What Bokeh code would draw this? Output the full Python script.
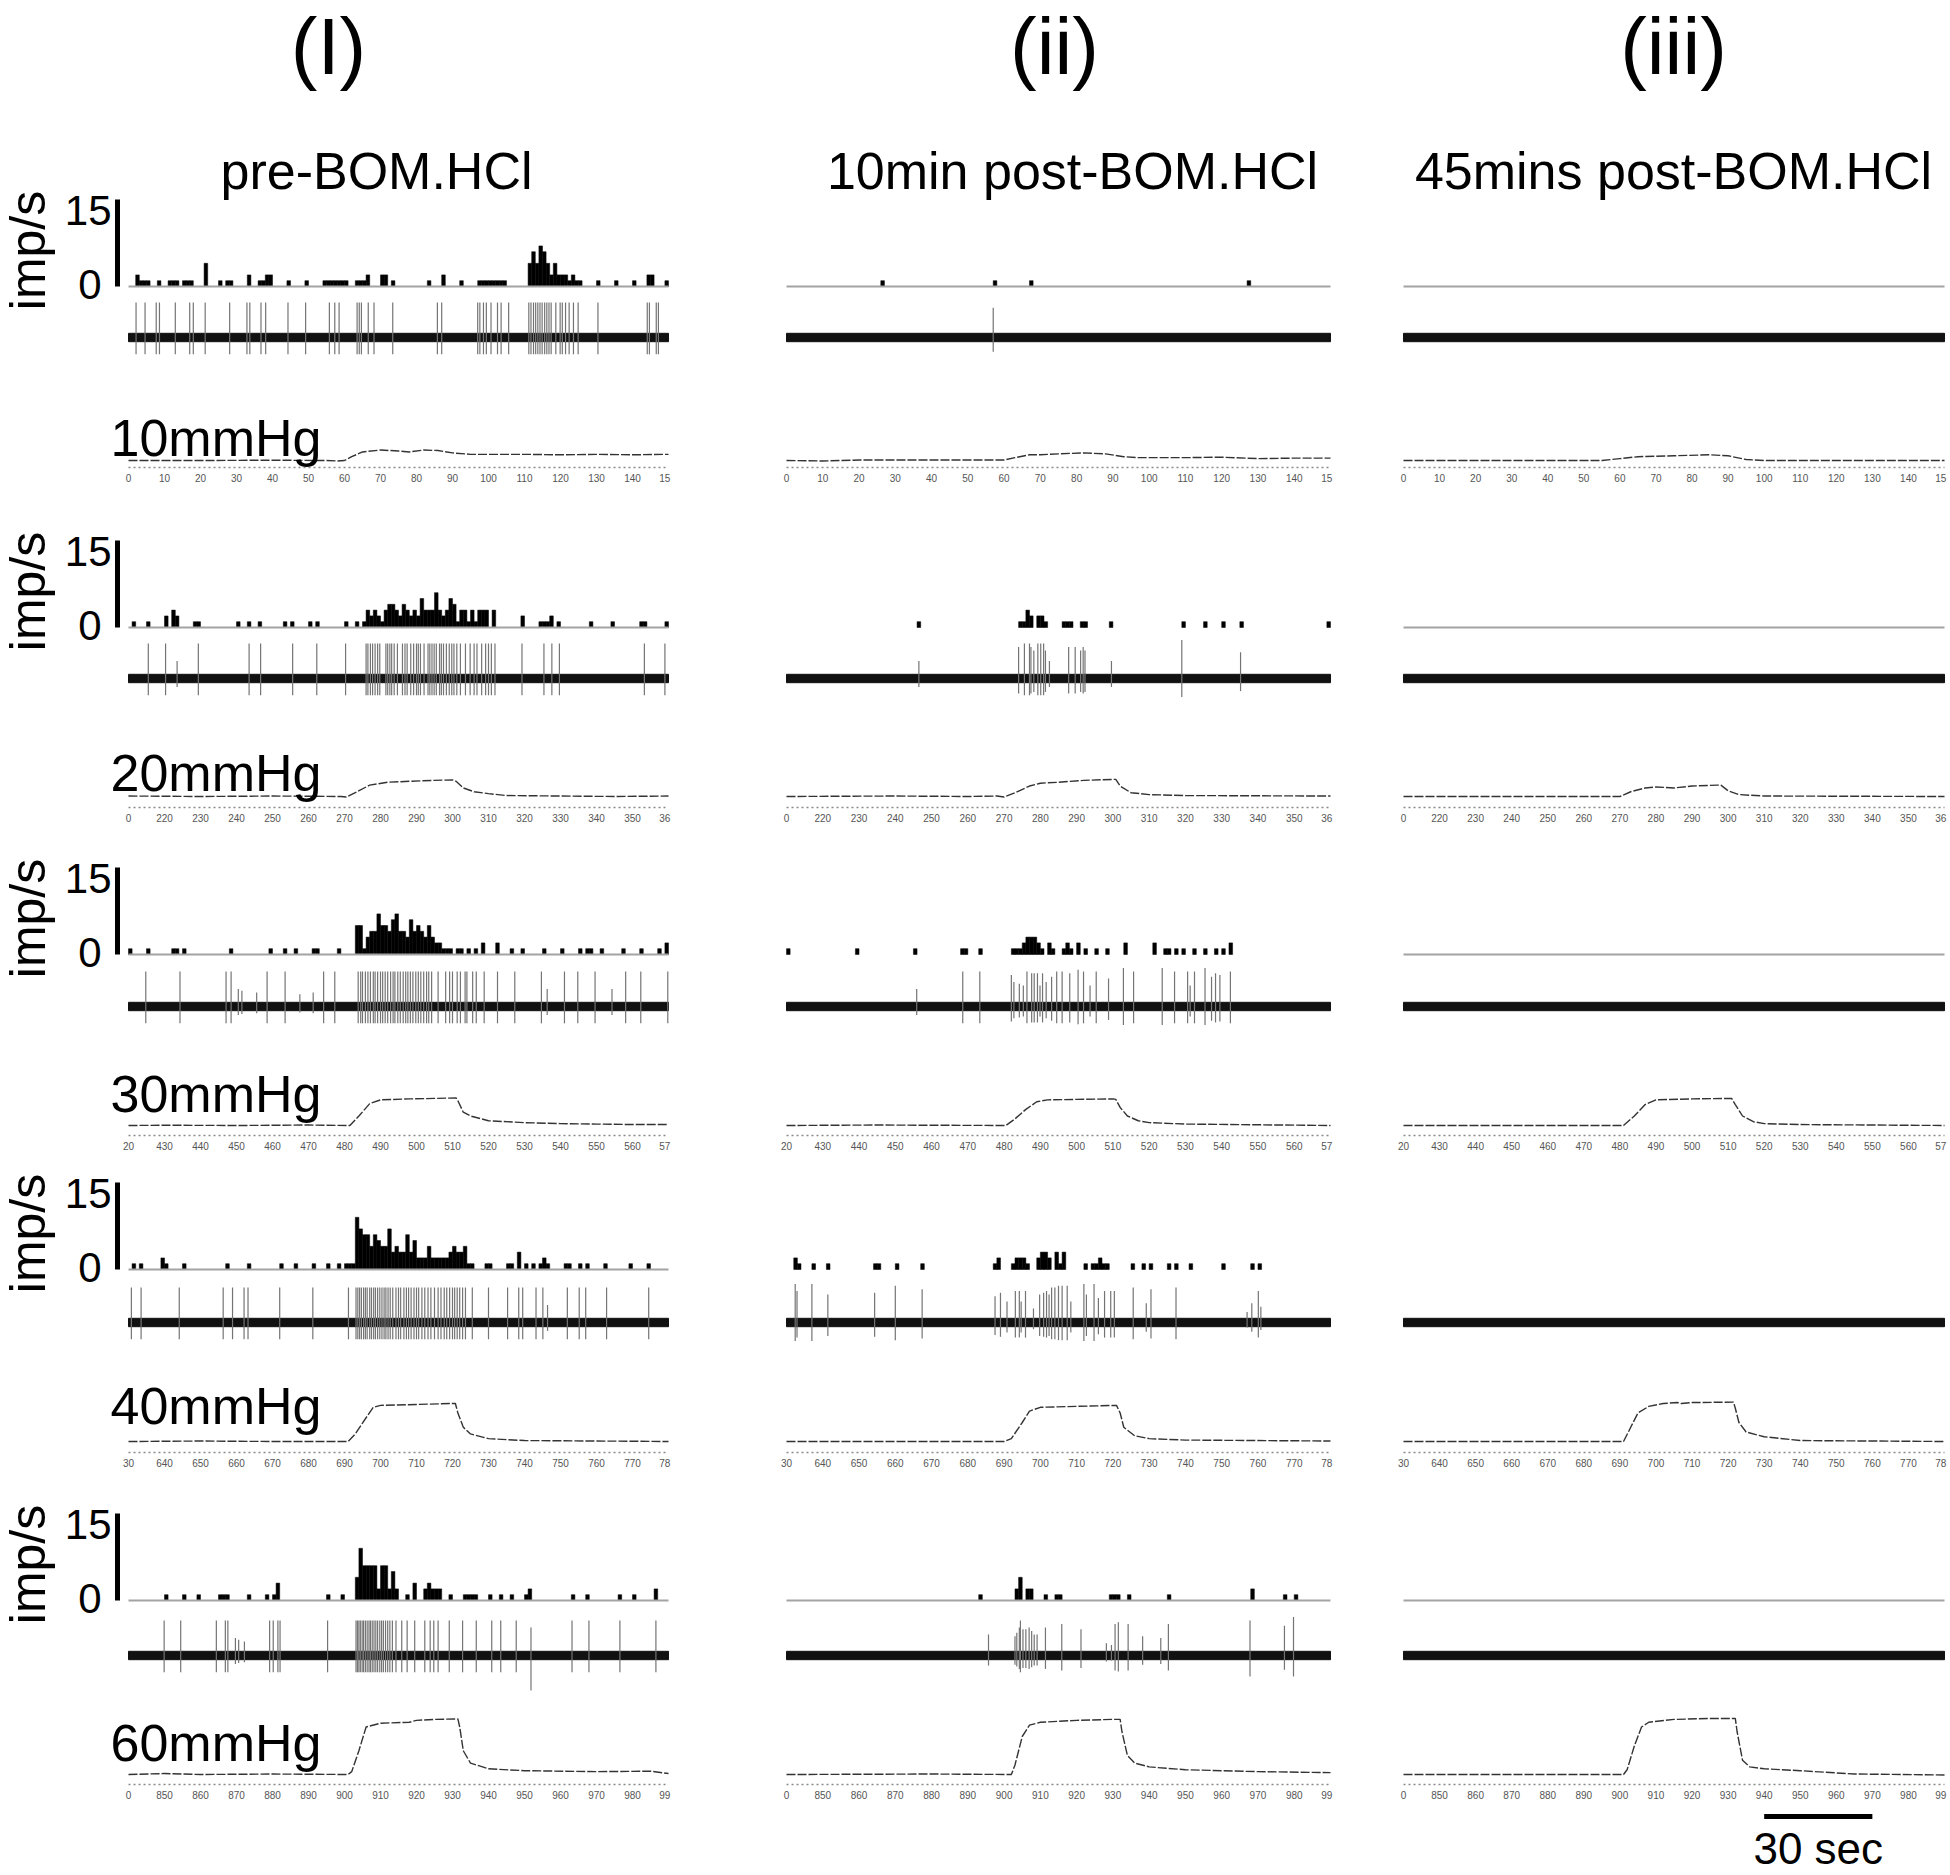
import math
from bokeh.plotting import figure
from bokeh.models import Range1d
from bokeh.embed import file_html
from bokeh.resources import INLINE
from bokeh.core.properties import value

# ---------------------------------------------------------------- data
col_headers = ["(I)", "(ii)", "(iii)"]
col_titles = ["pre-BOM.HCl", "10min post-BOM.HCl", "45mins post-BOM.HCl"]
pressure_labels = ["10mmHg", "20mmHg", "30mmHg", "40mmHg", "60mmHg"]
window_start = [0, 210, 420, 630, 840]      # s, start of each 150 s sweep
window_len = 150
tick_step = 10
first_tick_text = ["0", "0", "20", "30", "0"]   # clipped first tick labels
hist_max = 15                                    # imp/s
scalebar_len = 30                                # s
scalebar_rel_start = 100                         # s into last sweep

# histogram bins (1 s): (seconds into sweep, imp/s)
hist_I_10 = [(2,2),(3,1),(4,1),(5,1),(8,1),(11,1),(12,1),(13,1),(15,1),(16,1),(17,1),(21,4),(25,1),(27,1),(28,1),
             (33,2),(36,1),(37,1),(38,2),(39,2),(44,1),(49,1),(54,1),(55,1),(56,1),(57,1),(58,1),(59,1),(60,1),
             (63,1),(64,1),(65,1),(66,2),(70,2),(71,2),(73,1),(83,1),(87,2),(92,1),(97,1),(98,1),(99,1),(100,1),
             (101,1),(102,1),(103,1),(104,1),(111,4),(112,6),(113,4),(114,7),(115,6),(116,4),(117,2),(118,4),
             (119,2),(120,2),(121,2),(122,1),(123,2),(124,1),(125,1),(130,1),(135,1),(140,1),(144,2),(145,2),(149,1)]
hist_I_20 = [(1,1),(5,1),(10,2),(12,3),(13,2),(18,1),(19,1),(30,1),(33,1),(36,1),(43,1),(45,1),(50,1),(52,1),
             (60,1),(63,1),(65,1),(66,3),(67,2),(68,3),(69,2),(70,1),(71,3),(72,4),(73,4),(74,3),(75,2),(76,4),
             (77,3),(78,2),(79,3),(80,2),(81,5),(82,3),(83,3),(84,3),(85,6),(86,3),(87,2),(88,3),(89,5),(90,4),
             (91,1),(92,3),(93,3),(94,1),(95,3),(96,1),(97,3),(98,3),(99,3),(101,3),(109,2),(114,1),(115,1),
             (116,1),(117,2),(119,1),(128,1),(134,1),(142,1),(143,1),(149,1)]
hist_I_30 = [(0,1),(5,1),(12,1),(13,1),(15,1),(28,1),(39,1),(43,1),(46,1),(51,1),(52,1),(58,1),(63,5),(64,5),
             (65,1),(66,3),(67,4),(68,4),(69,7),(70,5),(71,5),(72,4),(73,6),(74,7),(75,4),(76,4),(77,3),(78,6),
             (79,4),(80,5),(81,4),(82,3),(83,5),(84,3),(85,2),(86,2),(87,1),(88,1),(89,1),(91,1),(92,1),(94,1),
             (96,1),(98,2),(102,2),(106,1),(109,1),(115,1),(120,1),(125,1),(127,1),(128,1),(131,1),(137,1),
             (142,1),(147,1),(149,2)]
hist_I_40 = [(1,1),(3,1),(9,2),(10,1),(15,1),(27,1),(33,1),(42,1),(46,1),(51,1),(55,1),(58,1),(60,1),(61,1),
             (62,1),(63,9),(64,7),(65,6),(66,6),(67,4),(68,6),(69,5),(70,4),(71,4),(72,7),(73,3),(74,4),(75,3),
             (76,3),(77,6),(78,3),(79,5),(80,2),(81,2),(82,2),(83,4),(84,2),(85,2),(86,2),(87,2),(88,2),(89,3),
             (90,4),(91,3),(92,3),(93,4),(94,1),(95,1),(99,1),(100,1),(105,1),(106,1),(108,3),(110,1),(112,1),
             (114,1),(115,2),(116,1),(121,1),(122,1),(125,1),(127,1),(132,1),(139,1),(144,1)]
hist_I_60 = [(10,1),(15,1),(19,1),(25,1),(26,1),(27,1),(33,1),(38,1),(40,1),(41,3),(55,1),(59,1),(63,4),(64,9),
             (65,6),(66,6),(67,6),(68,6),(69,2),(70,6),(71,6),(72,2),(73,5),(74,2),(77,1),(79,3),(82,2),(83,3),
             (84,2),(85,2),(86,2),(89,1),(93,1),(94,1),(95,1),(96,1),(100,1),(103,1),(106,1),(110,1),(111,2),
             (123,1),(127,1),(136,1),(140,1),(146,2)]
hist_ii_10 = [(26,1),(57,1),(67,1),(127,1)]
hist_ii_20 = [(36,1),(64,1),(65,1),(66,3),(67,2),(69,2),(70,2),(71,1),(76,1),(77,1),(78,1),(81,1),(82,1),(89,1),
              (109,1),(115,1),(120,1),(125,1),(149,1)]
hist_ii_30 = [(0,1),(19,1),(35,1),(48,1),(49,1),(53,1),(62,1),(63,1),(64,1),(65,2),(66,3),(67,3),(68,3),(69,2),
              (70,1),(72,2),(73,1),(76,1),(77,2),(78,1),(80,2),(82,1),(85,1),(88,1),(93,2),(101,2),(104,1),
              (105,1),(107,1),(109,1),(112,1),(115,1),(118,1),(120,1),(122,2)]
hist_ii_40 = [(2,2),(3,1),(7,1),(11,1),(24,1),(25,1),(30,1),(37,1),(57,1),(58,2),(62,1),(63,2),(64,2),(65,2),
              (66,1),(69,2),(70,3),(71,3),(72,2),(74,3),(75,1),(76,3),(82,1),(84,1),(85,1),(86,2),(87,1),(88,1),
              (95,1),(98,1),(100,1),(105,1),(107,1),(111,1),(120,1),(128,1),(130,1)]
hist_ii_60 = [(53,1),(63,2),(64,4),(66,2),(67,2),(71,1),(74,1),(75,1),(89,1),(90,1),(91,1),(94,1),(105,1),
              (128,2),(137,1),(140,1)]
hist_iii_10 = []
hist_iii_20 = []
hist_iii_30 = []
hist_iii_40 = []
hist_iii_60 = []

# whether the grey zero line of the histogram is visible
hist_baseline_shown = [[1, 1, 1, 1, 1], [1, 0, 0, 0, 1], [1, 1, 1, 0, 1]]

# raw-trace spikes: t  or  (t, up amplitude)  or  (t, up, down)
spk_I_10 = [2.1,4.6,7.7,8.6,13.0,17.0,18.0,21.3,28.1,32.9,33.7,36.8,38.1,44.3,49.2,55.8,57.3,58.5,63.5,64.1,
            64.7,66.6,68.2,73.4,85.8,87.0,97.0,97.6,98.6,99.4,100.7,102.5,103.5,105.6,111.2,111.8,112.5,113.1,
            113.7,114.3,114.9,115.6,116.2,116.8,117.4,118.7,119.9,120.5,121.4,122.4,123.6,124.9,130.4,144.1,
            144.7,146.6,147.2]
spk_I_20 = [5.5,10.3,(13.5,0.5),19.4,33.5,36.7,45.6,52.3,60.3,66.0,66.5,67.2,67.8,68.5,69.2,69.8,71.5,72.0,
            72.6,73.1,73.8,74.7,76.1,76.8,77.4,78.4,79.2,80.0,80.5,81.1,82.1,83.2,83.7,84.3,84.9,85.5,86.4,86.9,
            87.5,88.3,89.1,89.8,90.4,91.2,92.2,93.6,94.9,96.0,96.8,98.1,99.2,100.0,100.8,101.8,109.3,115.4,
            117.6,119.7,143.3,149.0]
spk_I_30 = [4.8,14.3,27.1,28.5,(30.5,0.5),(31.5,0.45),(35.6,0.4),38.5,43.5,(47.6,0.35),(51.3,0.4),54.2,57.3,
            63.8,64.5,65.0,65.8,66.5,67.2,68.0,68.5,69.2,70.0,70.6,71.3,72.0,72.8,73.5,74.0,74.8,75.5,76.3,
            77.0,77.6,78.3,79.0,79.8,80.5,81.2,82.0,82.8,83.4,84.2,86.0,88.1,89.2,90.0,91.3,92.2,93.5,94.0,
            95.6,96.6,98.8,102.5,107.3,114.7,(116.3,0.5),121.1,124.8,129.6,(134.3,0.5),138.1,142.3,149.8]
spk_I_40 = [0.8,3.5,14.1,26.3,28.9,32.1,33.2,42.0,51.2,61.1,63.2,63.7,64.2,64.7,65.3,65.8,66.3,67.0,67.5,68.1,
            68.6,69.2,69.8,70.4,71.0,71.5,72.1,72.7,73.4,74.3,75.0,75.6,76.5,77.2,77.8,78.5,79.3,80.0,80.6,
            81.5,82.3,83.2,84.0,85.0,86.0,86.8,87.7,88.4,89.2,90.0,90.6,91.3,92.0,92.8,93.6,95.5,100.0,105.3,
            108.4,109.5,113.2,115.1,(116.4,0.5),121.9,125.2,127.0,132.8,144.5]
spk_I_60 = [9.9,14.5,24.4,26.9,27.6,(29.7,0.5),(30.6,0.45),(32.2,0.4),39.2,40.2,41.5,42.1,55.3,63.2,63.6,64.0,
            64.4,64.9,65.3,65.8,66.3,66.8,67.2,67.7,68.2,68.7,69.2,69.8,70.3,70.8,71.4,72.0,72.6,73.3,74.3,
            75.9,77.4,79.5,82.3,83.8,84.8,86.0,89.1,92.8,96.6,100.9,103.4,107.7,(111.8,0.8,1.0),123.2,127.9,
            136.5,146.5]
spk_ii_10 = [(57.0,0.85)]
spk_ii_20 = [(36.5,0.5),(64.0,0.9),(65.6,1.0),(67.0,1.0),(67.4,0.9),(68.2,0.8),(69.3,1.0),(70.1,1.0),(70.9,1.0),
             (71.4,0.8),(72.5,0.5),(77.8,0.9),(79.6,0.9),(81.1,0.8),(81.8,0.9),(82.3,0.8),(89.6,0.5),
             (109.0,1.1),(125.2,0.75)]
spk_ii_30 = [(35.9,0.5),(48.6,1.0),(53.3,1.0),(62.0,0.9),(62.7,0.7),(64.2,0.65),(65.3,0.6),(66.3,1.0),(67.6,0.95),
             (68.3,0.95),(69.2,0.95),(69.9,0.6),(70.6,0.95),(71.6,0.7),(73.1,0.85),(74.5,1.0),(76.0,1.0),
             (78.1,0.95),(80.4,1.05),(81.9,1.0),(83.7,0.6),(85.4,1.0),(88.8,0.8),(92.9,1.1),(95.7,1.0),
             (103.6,1.1),(107.0,1.0),(110.6,1.0),(111.3,0.6),(112.5,1.0),(115.4,1.1),(117.2,0.85),(118.3,0.95),
             (119.5,0.9),(122.4,1.0)]
spk_ii_40 = [(2.4,1.1),(2.9,0.9),(7.0,1.1),(11.4,0.8),(24.3,0.85),(30.0,1.05),(37.4,0.95),(57.5,0.75),(59.0,0.85),
             (60.8,0.6),(63.1,0.9),(64.2,0.9),(64.7,0.6),(65.9,0.9),(68.1,0.4),(69.8,0.8),(70.9,0.85),(71.7,0.9),
             (72.4,0.8),(73.1,1.0),(74.0,1.0),(75.0,1.05),(76.0,1.05),(77.4,1.05),(78.4,0.6),(82.0,1.1),
             (82.7,0.8),(84.8,1.1),(86.0,0.7),(87.7,0.9),(89.4,0.9),(90.4,0.9),(95.6,1.0),(99.2,0.55),
             (100.5,0.95),(107.4,1.0),(127.0,0.3),(128.3,0.55),(130.1,0.9),(130.8,0.45)]
spk_ii_60 = [(55.7,0.6),(63.0,0.55),(63.5,0.65),(64.2,0.8),(64.5,1.0),(65.2,0.75),(66.0,0.75),(66.9,0.8),
             (67.6,0.7),(68.3,0.6),(69.1,0.6),(71.4,0.8),(75.9,0.9),(81.2,0.75),(88.2,0.35),(89.6,0.3),
             (90.6,0.9),(91.5,0.95),(94.2,0.9),(98.2,0.55),(103.2,0.5),(105.3,0.9),(127.8,1.0,0.6),(137.3,0.85),
             (139.8,1.1,0.6)]
spk_iii_10 = []
spk_iii_20 = []
spk_iii_30 = []
spk_iii_40 = []
spk_iii_60 = []

# pressure (seconds into sweep, mmHg)
prs_I_10 = [(0,0),(20,0),(40,0.3),(55,0),(58,-0.5),(60,0),(62,4),(65,9),(70,11),(75,10),(78,9),(82,11),(86,10.5),
            (90,8),(95,6.5),(100,6.5),(110,6.5),(120,6),(130,6.5),(140,6),(150,6.5)]
prs_I_20 = [(0,0.5),(20,0),(40,0.5),(59,0),(60.5,-0.5),(63,4),(67,12),(72,15),(78,16),(85,17),(90,17.5),(91,16),
            (93,9),(96,5),(100,3),(105,1),(120,0.5),(135,0),(150,0.5)]
prs_I_30 = [(0,0),(10,0.3),(30,0),(50,0.5),(61.5,0),(64,10),(67,23),(70,27),(78,28),(85,28.5),(91,29),(91.5,26),
            (93,14),(95,10),(100,5),(110,3),(120,2),(130,1.5),(140,1),(150,1)]
prs_I_40 = [(0,0),(20,0.5),(40,0),(61,0),(63,8),(66,25),(68,36),(70,38),(80,39),(90,40),(90.8,40),(91.5,30),
            (93,15),(95,8),(100,3),(110,1),(130,0.5),(150,0)]
prs_I_60 = [(0,0),(10,1),(20,0),(40,0.5),(61,0),(62,3),(64,25),(66,50),(70,54),(78,55),(80,57),(85,58),(91.5,58.5),
            (92,50),(93,25),(95,12),(100,6),(110,4),(130,3),(145,3.5),(150,1)]
prs_ii_10 = [(0,0),(10,-0.5),(20,0.5),(60,0.5),(63,3),(67,6),(70,6),(75,7),(82,8),(88,7),(93,4),(97,3),(110,3),
             (120,3.5),(130,2),(140,2.5),(150,2.5)]
prs_ii_20 = [(0,0),(30,0.5),(50,0),(58,0.5),(60,-0.5),(63,4),(67,11),(70,14),(75,15),(82,17),(90,18),(90.8,18),
             (92,11),(95,4),(100,2),(110,1),(150,0.5)]
prs_ii_30 = [(0,0),(24,0.5),(60.5,0),(63,7),(66,17),(69,25),(72,27),(80,27.5),(90,28),(90.8,27.5),(92,19),
             (94,10),(97,5),(100,3),(110,1.5),(150,0)]
prs_ii_40 = [(0,0),(60,0),(62,3),(65,20),(67,32),(70,36),(80,37),(91,38),(92,30),(93,15),(96,6),(100,3),(110,1.5),
             (150,0.5)]
prs_ii_60 = [(0,0),(40,0.5),(62,0),(63,10),(65,40),(67,52),(70,55),(80,57),(90,58),(92,58),(92.5,45),(94,20),
             (96,12),(100,8),(110,5),(130,3),(150,2)]
prs_iii_10 = [(0,0),(55,0),(60,2),(65,4),(75,5),(85,6),(90,5),(95,1),(100,0),(150,0)]
prs_iii_20 = [(0,0),(60,0),(63,5),(67,9),(70,10),(75,9),(80,11),(87,12),(88,12),(90,6),(93,2),(100,0.5),(150,0)]
prs_iii_30 = [(0,0),(61,0),(64,10),(67,22),(70,27),(80,28),(91,28.5),(92,22),(94,10),(97,4),(100,2),(110,1),(150,0)]
prs_iii_40 = [(0,0),(61,0),(63,15),(65,30),(68,37),(72,40),(76,41),(77,40),(80,41),(91.5,41.5),(92,35),(93,20),
              (95,10),(100,5),(110,1),(150,0)]
prs_iii_60 = [(0,0),(61,0),(62,5),(64,30),(66,50),(68,55),(75,58),(85,59),(92,59),(92.5,45),(94,15),(96,8),(100,6),
              (110,4),(125,0.5),(150,-0.5)]

hist_data = [[hist_I_10, hist_I_20, hist_I_30, hist_I_40, hist_I_60],
             [hist_ii_10, hist_ii_20, hist_ii_30, hist_ii_40, hist_ii_60],
             [hist_iii_10, hist_iii_20, hist_iii_30, hist_iii_40, hist_iii_60]]
spike_data = [[spk_I_10, spk_I_20, spk_I_30, spk_I_40, spk_I_60],
              [spk_ii_10, spk_ii_20, spk_ii_30, spk_ii_40, spk_ii_60],
              [spk_iii_10, spk_iii_20, spk_iii_30, spk_iii_40, spk_iii_60]]
pressure_data = [[prs_I_10, prs_I_20, prs_I_30, prs_I_40, prs_I_60],
                 [prs_ii_10, prs_ii_20, prs_ii_30, prs_ii_40, prs_ii_60],
                 [prs_iii_10, prs_iii_20, prs_iii_30, prs_iii_40, prs_iii_60]]

# ---------------------------------------------------------------- layout (page pixels)
W, H = 1948, 1874
M = 0
COL_X0 = [128, 786, 1403]
COL_X1 = [668, 1330, 1944]
HIST0 = [286, 627, 954, 1269, 1600]
RAW0 = [337, 678, 1006, 1322, 1655]
PRS0 = [460, 796, 1125, 1441, 1774]
DOT_Y = [467, 807, 1135, 1452, 1784]
TICK_Y = [477, 817, 1145, 1462, 1794]
LAB_Y = [437, 772, 1093, 1405, 1742]
HIST_H = 87      # px for 15 imp/s
RAW_H = 35       # px for a unit spike
PRS_K = 0.95     # px per mmHg
NOISE = 0.12     # half thickness of the noise band (raw units)
FONT = value("Liberation Sans")


def X(px):
    return px - M


def Y(py):
    return H - (py - M)


p = figure(width=W, height=H, x_range=Range1d(0, W), y_range=Range1d(0, H),
           x_axis_type=None, y_axis_type=None, output_backend="svg",
           toolbar_location=None, min_border=0)
p.grid.visible = False
p.outline_line_color = None

xr, yr = {}, {}
for c in range(3):
    for r in range(5):
        t0 = window_start[r]
        a, b = X(COL_X0[c]), X(COL_X1[c])
        k = window_len / (b - a)
        s = t0 - a * k
        xr[f"x{c}{r}"] = Range1d(s, s + W * k)


def yrange(vtop, base_px, h_px):
    k = vtop / h_px
    s = -Y(base_px) * k
    return Range1d(s, s + H * k)


for r in range(5):
    yr[f"h{r}"] = yrange(hist_max, HIST0[r], HIST_H)
    yr[f"s{r}"] = yrange(1.0, RAW0[r], RAW_H)
    yr[f"p{r}"] = yrange(60.0, PRS0[r], 60 * PRS_K)
p.extra_x_ranges = xr
p.extra_y_ranges = yr

for c in range(3):
    for r in range(5):
        xn = f"x{c}{r}"
        t0 = window_start[r]
        t1 = t0 + window_len
        # --- histogram
        hb = hist_data[c][r]
        if hb:
            p.quad(left=[t0 + b for b, v in hb], right=[t0 + b + 1 for b, v in hb],
                   bottom=[0] * len(hb), top=[v for b, v in hb],
                   fill_color="black", line_color="black", line_width=0.5,
                   x_range_name=xn, y_range_name=f"h{r}")
        if hist_baseline_shown[c][r]:
            p.line(x=[t0, t1], y=[0, 0], line_color="#a3a3a3", line_width=2.2,
                   x_range_name=xn, y_range_name=f"h{r}")
        # --- raw trace
        p.quad(left=[t0], right=[t1], bottom=[-NOISE], top=[NOISE], fill_color="#111111",
               line_color="#111111", x_range_name=xn, y_range_name=f"s{r}")
        sp = []
        for e in spike_data[c][r]:
            if isinstance(e, tuple):
                if len(e) == 2:
                    sp.append((e[0], e[1], 0.48 * e[1]))
                else:
                    sp.append(e)
            else:
                sp.append((e, 1.0, 0.48))
        if sp:
            p.segment(x0=[t0 + s[0] for s in sp], x1=[t0 + s[0] for s in sp],
                      y0=[-s[2] for s in sp], y1=[s[1] for s in sp],
                      line_color="#747474", line_width=1.2,
                      x_range_name=xn, y_range_name=f"s{r}")
        # --- pressure trace
        pr = pressure_data[c][r]
        p.line(x=[t0 + t for t, v in pr], y=[v for t, v in pr], line_color="#333333",
               line_width=1.4, line_dash="9 2", x_range_name=xn, y_range_name=f"p{r}")
        # --- time axis (dotted minor ticks + tiny labels)
        p.line(x=[t0, t1], y=[Y(DOT_Y[r])] * 2, line_color="#8a8a8a", line_width=1.6,
               line_dash="2 3", x_range_name=xn)
        ticks = list(range(t0, t1 + 1, tick_step))
        labels = [str(v) for v in ticks]
        labels[0] = first_tick_text[r]
        labels[-1] = labels[-1][:2]
        p.text(x=ticks[:-1], y=[Y(TICK_Y[r])] * (len(ticks) - 1), text=labels[:-1], text_font=FONT,
               text_font_size=value("10px"), text_color="#555555", text_align="center",
               text_baseline="middle", x_range_name=xn)
        p.text(x=[t1 + 0.5], y=[Y(TICK_Y[r])], text=[labels[-1]], text_font=FONT,
               text_font_size=value("10px"), text_color="#555555", text_align="right",
               text_baseline="middle", x_range_name=xn)

# ---- left-hand axis & labels of column (I)
for r in range(5):
    p.segment(x0=[X(117)], x1=[X(117)], y0=[0], y1=[hist_max], line_color="black",
              line_width=5, y_range_name=f"h{r}")
    p.text(x=[X(111), X(101)], y=[Y(HIST0[r] - 76), Y(HIST0[r] - 2)], text=[str(hist_max), "0"],
           text_font=FONT, text_font_size=value("42px"), text_align="right",
           text_baseline="middle", text_color="black")
    p.text(x=[X(27)], y=[Y(HIST0[r] - 36)], text=["imp/s"], angle=math.pi / 2, text_font=FONT,
           text_font_size=value("50px"), text_align="center", text_baseline="middle",
           text_color="black")
    p.text(x=[X(110)], y=[Y(LAB_Y[r])], text=[pressure_labels[r]], text_font=FONT,
           text_font_size=value("52px"), text_align="left", text_baseline="middle",
           text_color="black")

# ---- column headings
p.text(x=[X(328), X(1054), X(1673)], y=[Y(46)] * 3, text=col_headers, text_font=FONT,
       text_font_size=value("80px"), text_align="center", text_baseline="middle", text_color="black")
p.text(x=[X(376), X(1072), X(1673)], y=[Y(170)] * 3, text=col_titles, text_font=FONT,
       text_font_size=value("52px"), text_align="center", text_baseline="middle", text_color="black")

# ---- 30 s scale bar (in the time frame of the last sweep of column iii)
sb0 = window_start[4] + scalebar_rel_start
p.segment(x0=[sb0], x1=[sb0 + scalebar_len], y0=[Y(1816)], y1=[Y(1816)], line_color="black",
          line_width=5, x_range_name="x24")
p.text(x=[sb0 + scalebar_len / 2], y=[Y(1848)], text=[f"{scalebar_len} sec"], text_font=FONT,
       text_font_size=value("44px"), text_align="center", text_baseline="middle",
       text_color="black", x_range_name="x24")

open("out.html", "w").write(file_html(p, INLINE))
